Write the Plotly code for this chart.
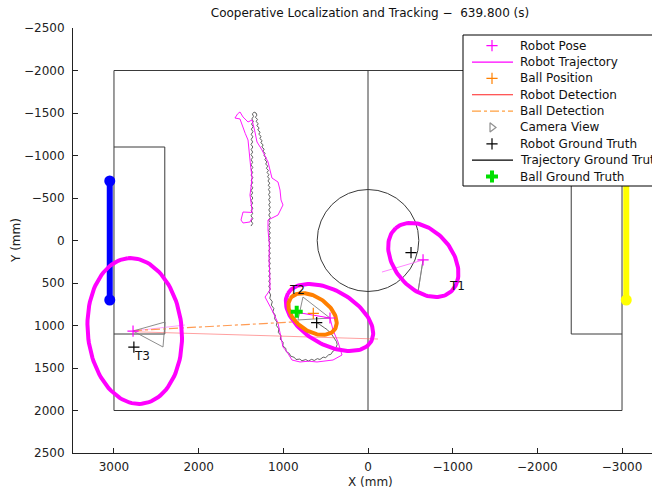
import numpy as np
import plotly.graph_objects as go

TITLE = "Cooperative Localization and Tracking \u2212  639.800 (s)"
X_TITLE = "X (mm)"
Y_TITLE = "Y (mm)"
X_TICKS = [3000, 2000, 1000, 0, -1000, -2000, -3000]
Y_TICKS = [-2500, -2000, -1500, -1000, -500, 0, 500, 1000, 1500, 2000, 2500]

# field geometry (mm)
FIELD_X = [3000, -3000, -3000, 3000, 3000]
FIELD_Y = [-2000, -2000, 2000, 2000, -2000]
MID_X = [0, 0]
MID_Y = [-2000, 2000]
PEN_L_X = [3000, 2400, 2400, 3000]
PEN_R_X = [-3000, -2400, -2400, -3000]
PEN_Y = [-1100, -1100, 1100, 1100]
CENTER_R = 600
GOAL_BLUE_X = [3050, 3050]
GOAL_YEL_X = [-3050, -3050]
GOAL_Y = [-700, 700]

# robots (T1, T2, T3)
POSE_X = [-650, 449, 2775]
POSE_Y = [229, 912, 1065]
GT_X = [-508, 606, 2765]
GT_Y = [143, 967, 1255]
LABELS = ["T1", "T2", "T3"]
LABEL_X = [-968, 921, 2752]
LABEL_Y = [547, 594, 1370]
ELL_CX = [-653, 455, 2755]
ELL_CY = [229, 906, 1065]
ELL_A = [496, 567, 860]
ELL_B = [341, 318, 555]
ELL_ANG = [-49, -30, -84.5]

# ball
BALL_X = [646]
BALL_Y = [857]
BALL_ELL = [655, 865, 319, 200, -35]
BALL_GT_X = [842]
BALL_GT_Y = [838]

# camera view triangles (pose + two far corners)
CAM_X = [[-650, -594, -650], [449, 768, 827, 449], [2775, 2397, 2421, 2775]]
CAM_Y = [[229, 582, 229], [912, 665, 935, 912], [1065, 959, 1253, 1065]]

# detections
ROBOT_DET_X = [2775, -118]
ROBOT_DET_Y = [1073, 1159]
BALL_DET_X = [2775, 820]
BALL_DET_Y = [1060, 955]

# robot 2 ground-truth trajectory (mm)
GT_TRAJ = [
    (1382, -170), (1362, -200), (1380, -230), (1360, -260), (1382, -290), (1362, -320),
    (1380, -350), (1360, -380), (1382, -410), (1362, -440), (1380, -470), (1360, -500),
    (1382, -530), (1362, -560), (1380, -590), (1360, -620), (1382, -650), (1362, -680),
    (1380, -710), (1360, -740), (1382, -770), (1362, -800), (1380, -830), (1360, -860),
    (1382, -890), (1362, -920), (1380, -950), (1360, -980), (1382, -1010), (1362, -1040),
    (1380, -1070), (1360, -1100), (1382, -1130), (1362, -1160), (1380, -1190), (1360, -1220),
    (1380, -1250), (1358, -1280), (1378, -1310), (1356, -1340), (1376, -1370), (1354, -1400),
    (1372, -1430), (1352, -1460), (1366, -1490), (1345, -1510), (1322, -1500),
    (1312, -1475), (1330, -1450), (1305, -1425), (1322, -1400), (1296, -1375), (1313, -1350),
    (1286, -1325), (1302, -1300), (1274, -1275), (1290, -1250), (1262, -1225), (1278, -1200),
    (1250, -1175), (1266, -1150), (1238, -1125), (1254, -1100), (1226, -1075), (1242, -1050),
    (1214, -1025), (1230, -1000), (1203, -975), (1219, -950), (1193, -925), (1209, -900),
    (1184, -875), (1200, -850), (1176, -825), (1192, -800), (1170, -775), (1186, -750),
    (1165, -725), (1182, -700), (1160, -675), (1178, -650), (1158, -625), (1176, -600),
    (1156, -570), (1174, -540), (1155, -510), (1173, -480), (1154, -450), (1172, -420),
    (1154, -390), (1172, -360), (1154, -330), (1172, -300), (1154, -270), (1172, -240),
    (1154, -210), (1172, -180), (1154, -150), (1172, -120), (1154, -90), (1172, -60),
    (1154, -30), (1172, 0), (1154, 30), (1172, 60), (1154, 90), (1172, 120),
    (1154, 150), (1172, 180), (1154, 210), (1172, 240), (1154, 270), (1172, 300),
    (1154, 330), (1172, 360), (1154, 390), (1172, 420), (1154, 450), (1172, 480),
    (1154, 510), (1172, 540), (1154, 570), (1170, 600), (1150, 640), (1160, 680),
    (1130, 720), (1142, 760), (1112, 800), (1124, 840), (1094, 880), (1104, 920),
    (1074, 960), (1082, 1000), (1052, 1040), (1060, 1080), (1028, 1120), (1036, 1160),
    (1002, 1200), (1006, 1240), (970, 1270), (968, 1305), (928, 1330), (915, 1360),
    (870, 1375), (850, 1400), (805, 1395), (780, 1415), (735, 1400), (705, 1418),
    (665, 1398), (635, 1412), (598, 1390), (568, 1400), (530, 1372), (500, 1378),
    (465, 1345), (440, 1340), (412, 1300), (392, 1290), (378, 1250), (364, 1225),
    (372, 1190), (390, 1160), (410, 1130), (432, 1100), (458, 1075), (480, 1050),
    (510, 1030), (540, 1005), (575, 985), (606, 967),
]

# robot 2 estimated trajectory (mm)
EST_TRAJ = [
    (1370, -265), (1394, -218), (1476, -206), (1500, -241), (1476, -335), (1370, -330),
    (1375, -400), (1394, -535), (1380, -640), (1370, -747), (1385, -860), (1394, -982),
    (1405, -1080), (1417, -1182), (1450, -1260), (1476, -1335), (1512, -1430), (1571, -1441),
    (1540, -1490), (1512, -1512), (1476, -1453), (1417, -1394), (1370, -1418), (1340, -1300),
    (1311, -1159), (1252, -1065), (1181, -924), (1134, -735), (1063, -688), (1039, -594),
    (1027, -476), (1004, -418), (1063, -300), (1181, -241), (1181, -124), (1165, 50),
    (1169, 229), (1160, 400), (1157, 582), (1216, 665), (1134, 818), (1063, 971),
    (1030, 1110), (1004, 1253), (956, 1312), (898, 1406), (803, 1429), (700, 1420),
    (602, 1429), (500, 1415), (413, 1406), (307, 1347), (354, 1194), (413, 1053), (449, 912),
]
EST_SEG_X = [882, 449]
EST_SEG_Y = [838, 912]
R1_TRAJ_X = [-165, -650]
R1_TRAJ_Y = [371, 229]
R3_TRAJ_X = [2775, 2161]
R3_TRAJ_Y = [1065, 994]

# legend entries
LEG_NAMES = ["Robot Pose", "Robot Trajectory", "Ball Position", "Robot Detection",
             "Ball Detection", "Camera View", "Robot Ground Truth",
             "Trajectory Ground Truth", "Ball Ground Truth"]
LEG_KIND = ["marker", "line", "marker", "line", "line", "marker", "marker", "line", "marker"]
LEG_COLOR = ["#ff00ff", "#ff00ff", "#ff8000", "#ff2020", "#ffa040", "#909090",
             "#000000", "#000000", "#00e000"]
LEG_SYMBOL = ["cross-thin", None, "cross-thin", None, None, "triangle-right-open",
              "cross-thin", None, "cross"]
LEG_DASH = [None, "solid", None, "solid", "dashdot", None, None, "solid", None]

FONT = "DejaVu Sans, Arial, sans-serif"
FS = 12
MAG = "#ff00ff"
ORANGE = "#ff7f00"

# plot area in pixels
PL, PR, PT, PB = 73, 652, 28, 453


def ellipse(cx, cy, a, b, ang):
    t = np.linspace(0, 2 * np.pi, 121)
    p = np.deg2rad(ang)
    x = cx + a * np.cos(t) * np.cos(p) - b * np.sin(t) * np.sin(p)
    y = cy + a * np.cos(t) * np.sin(p) + b * np.sin(t) * np.cos(p)
    return x, y


fig = go.Figure()


def line(x, y, color, width=1.0, dash="solid", opacity=1.0):
    fig.add_trace(go.Scatter(x=x, y=y, mode="lines", line=dict(color=color, width=width, dash=dash),
                             opacity=opacity, hoverinfo="skip", showlegend=False))


# field
FL = "#3a3a3a"
line(FIELD_X, FIELD_Y, FL)
line(MID_X, MID_Y, FL)
line(PEN_L_X, PEN_Y, FL)
line(PEN_R_X, PEN_Y, FL)
fig.add_shape(type="circle", xref="x", yref="y", x0=-CENTER_R, x1=CENTER_R, y0=-CENTER_R, y1=CENTER_R,
              line=dict(color=FL, width=1), layer="below")
for gx, col in [(GOAL_BLUE_X, "#0000ff"), (GOAL_YEL_X, "#ffff00")]:
    fig.add_trace(go.Scatter(x=gx, y=GOAL_Y, mode="lines+markers", line=dict(color=col, width=6),
                             marker=dict(color=col, size=11), hoverinfo="skip", showlegend=False))

# trajectories
line([p[0] for p in GT_TRAJ], [p[1] for p in GT_TRAJ], "#505050", 0.9)
line([p[0] for p in EST_TRAJ], [p[1] for p in EST_TRAJ], MAG, 0.9)
line(EST_SEG_X, EST_SEG_Y, MAG, 1.0)
line(R1_TRAJ_X, R1_TRAJ_Y, "#ff66ff", 1.0, opacity=0.8)
line(R3_TRAJ_X, R3_TRAJ_Y, "#ff66ff", 1.0, opacity=0.6)

# detections
line(ROBOT_DET_X, ROBOT_DET_Y, "#ff6060", 1.0, opacity=0.6)
line(BALL_DET_X, BALL_DET_Y, "#ff9040", 1.2, dash="dashdot", opacity=0.9)

# camera views
for cx, cy in zip(CAM_X, CAM_Y):
    line(cx, cy, "#808080", 0.9)

# uncertainty ellipses
for i in range(3):
    ex, ey = ellipse(ELL_CX[i], ELL_CY[i], ELL_A[i], ELL_B[i], ELL_ANG[i])
    line(ex, ey, MAG, 4)
bx, by = ellipse(*BALL_ELL)
line(bx, by, ORANGE, 4)

# markers
fig.add_trace(go.Scatter(x=GT_X, y=GT_Y, mode="markers",
                         marker=dict(symbol="cross-thin", size=8, line=dict(color="#000", width=1.2)),
                         hoverinfo="skip", showlegend=False))
fig.add_trace(go.Scatter(x=POSE_X, y=POSE_Y, mode="markers",
                         marker=dict(symbol="cross-thin", size=8, line=dict(color=MAG, width=1.2)),
                         hoverinfo="skip", showlegend=False))
fig.add_trace(go.Scatter(x=BALL_X, y=BALL_Y, mode="markers",
                         marker=dict(symbol="cross-thin", size=8, line=dict(color=ORANGE, width=1.2)),
                         hoverinfo="skip", showlegend=False))
fig.add_trace(go.Scatter(x=BALL_GT_X, y=BALL_GT_Y, mode="markers",
                         marker=dict(symbol="cross", size=10, color="#00e000", line=dict(width=0)),
                         hoverinfo="skip", showlegend=False))
fig.add_trace(go.Scatter(x=LABEL_X, y=LABEL_Y, mode="text", text=LABELS, textposition="middle right",
                         textfont=dict(family=FONT, size=FS, color="#111"),
                         hoverinfo="skip", showlegend=False))

# ---- custom legend on a pixel-scaled overlay subplot ----
L_LEFT, L_TOP, L_BOT = 463, 35, 186
ROW0, ROWH = 45.7, 16.35
fig.add_trace(go.Scatter(x=[L_LEFT, 720, 720, L_LEFT, L_LEFT], y=[L_TOP, L_TOP, L_BOT, L_BOT, L_TOP],
                         mode="lines", fill="toself", fillcolor="white",
                         line=dict(color="#000", width=1), xaxis="x2", yaxis="y2",
                         hoverinfo="skip", showlegend=False))
for i, name in enumerate(LEG_NAMES):
    yy = ROW0 + ROWH * i
    if LEG_KIND[i] == "line":
        fig.add_trace(go.Scatter(x=[472, 513], y=[yy, yy], mode="lines", xaxis="x2", yaxis="y2",
                                 line=dict(color=LEG_COLOR[i], width=1.2, dash=LEG_DASH[i]),
                                 hoverinfo="skip", showlegend=False))
    else:
        sym = LEG_SYMBOL[i]
        if sym == "cross":
            mk = dict(symbol=sym, size=10, color=LEG_COLOR[i], line=dict(width=0))
        else:
            mk = dict(symbol=sym, size=8, color=LEG_COLOR[i], line=dict(color=LEG_COLOR[i], width=1.2))
        fig.add_trace(go.Scatter(x=[492], y=[yy], mode="markers", xaxis="x2", yaxis="y2", marker=mk,
                                 cliponaxis=False, hoverinfo="skip", showlegend=False))
    fig.add_annotation(x=518, y=yy, xref="x2", yref="y2", text=name, showarrow=False,
                       xanchor="left", yanchor="middle",
                       font=dict(family=FONT, size=FS, color="#111"))

# axis titles as annotations (pixel positions converted to paper)
fig.add_annotation(x=(370 - PL) / (PR - PL), y=(PB - 482) / (PB - PT), xref="paper", yref="paper",
                   text=X_TITLE, showarrow=False, xanchor="center", yanchor="middle",
                   font=dict(family=FONT, size=FS, color="#222"))
fig.add_annotation(x=(16 - PL) / (PR - PL), y=(PB - 241) / (PB - PT), xref="paper", yref="paper",
                   text=Y_TITLE, showarrow=False, xanchor="center", yanchor="middle", textangle=-90,
                   font=dict(family=FONT, size=FS, color="#222"))

fig.update_layout(
    width=652, height=490,
    margin=dict(l=PL, r=652 - PR, t=PT, b=490 - PB, autoexpand=False),
    paper_bgcolor="white", plot_bgcolor="white",
    showlegend=False,
    font=dict(family=FONT, size=FS, color="#222"),
    title=dict(text=TITLE, x=370 / 652, xanchor="center", xref="container",
               y=1 - 13 / 490, yref="container", yanchor="middle", automargin=False,
               font=dict(family=FONT, size=FS, color="#111")),
    xaxis=dict(range=[3484, -3354], tickvals=X_TICKS, showgrid=False, zeroline=False,
               showline=True, linecolor="#222", linewidth=1, mirror=False, automargin=False,
               ticks="inside", ticklen=5, tickcolor="#222", ticklabelstandoff=3),
    yaxis=dict(range=[2500, -2500], tickvals=Y_TICKS, showgrid=False, zeroline=False,
               showline=True, linecolor="#222", linewidth=1, mirror=False, automargin=False,
               ticks="inside", ticklen=5, tickcolor="#222", ticklabelstandoff=5),
    xaxis2=dict(overlaying="x", range=[PL, PR], visible=False, anchor="y2"),
    yaxis2=dict(overlaying="y", range=[PB, PT], visible=False, anchor="x2"),
    hovermode=False,
)

fig.write_html("out.html", config={"displayModeBar": False, "staticPlot": True},
               post_script="document.body.style.margin='0px';")
